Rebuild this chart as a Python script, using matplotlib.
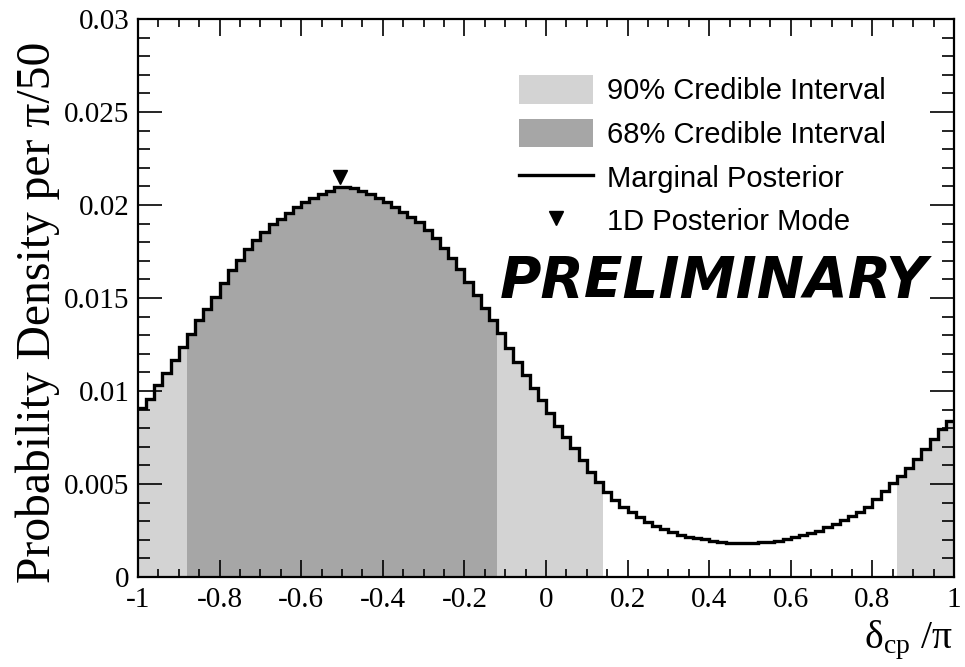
import numpy as np
import matplotlib
matplotlib.use("Agg")
import matplotlib.pyplot as plt
from matplotlib.patches import Patch
from matplotlib.lines import Line2D
from matplotlib.ticker import MultipleLocator

# ---- data ----
bin_edges = np.linspace(-1.0, 1.0, 101)
posterior = [
    0.00910, 0.00957, 0.01030, 0.01095, 0.01167, 0.01238, 0.01305, 0.01382, 0.01440, 0.01504,
    0.01579, 0.01650, 0.01704, 0.01762, 0.01812, 0.01857, 0.01900, 0.01925, 0.01959, 0.01988,
    0.02014, 0.02036, 0.02057, 0.02077, 0.02095, 0.02099, 0.02090, 0.02075, 0.02060, 0.02036,
    0.02014, 0.01991, 0.01964, 0.01937, 0.01910, 0.01866, 0.01821, 0.01767, 0.01713, 0.01654,
    0.01588, 0.01516, 0.01444, 0.01382, 0.01310, 0.01230, 0.01158, 0.01086, 0.01015, 0.00952,
    0.00880, 0.00812, 0.00754, 0.00692, 0.00629, 0.00566, 0.00512, 0.00459, 0.00414, 0.00378,
    0.00351, 0.00324, 0.00297, 0.00276, 0.00256, 0.00240, 0.00226, 0.00217, 0.00208, 0.00203,
    0.00195, 0.00188, 0.00185, 0.00181, 0.00181, 0.00183, 0.00186, 0.00190, 0.00195, 0.00204,
    0.00213, 0.00224, 0.00235, 0.00249, 0.00267, 0.00285, 0.00306, 0.00328, 0.00352, 0.00379,
    0.00417, 0.00460, 0.00503, 0.00543, 0.00586, 0.00634, 0.00688, 0.00742, 0.00796, 0.00839,
]
ci90_ranges = [(-1.0, 0.14), (0.86, 1.0)]
ci68_ranges = [(-0.88, -0.12)]
mode_x = -0.505
mode_y = 0.0215

legend_labels = ["90% Credible Interval", "68% Credible Interval",
                 "Marginal Posterior", "1D Posterior Mode"]
x_ticks = [-1, -0.8, -0.6, -0.4, -0.2, 0, 0.2, 0.4, 0.6, 0.8, 1]
x_tick_labels = ["-1", "-0.8", "-0.6", "-0.4", "-0.2", "0", "0.2", "0.4", "0.6", "0.8", "1"]
y_ticks = [0, 0.005, 0.01, 0.015, 0.02, 0.025, 0.03]
y_tick_labels = ["0", "0.005", "0.01", "0.015", "0.02", "0.025", "0.03"]

c90 = "#d3d3d3"
c68 = "#a6a6a6"

plt.rcParams["mathtext.fontset"] = "custom"
plt.rcParams["mathtext.rm"] = "Liberation Serif"
plt.rcParams["mathtext.it"] = "Liberation Serif:italic"

posterior = np.asarray(posterior)
centers = 0.5 * (bin_edges[:-1] + bin_edges[1:])

fig = plt.figure(figsize=(9.65, 6.67), dpi=100)
ax = fig.add_axes([138/965, 1-577/667, (954-138)/965, (577-19)/667])


def fill_ranges(ranges, color):
    for lo, hi in ranges:
        m = (centers > lo) & (centers < hi)
        idx = np.where(m)[0]
        ax.stairs(posterior[idx], bin_edges[idx[0]:idx[-1] + 2], fill=True,
                  color=color, linewidth=0, zorder=1)


fill_ranges(ci90_ranges, c90)
fill_ranges(ci68_ranges, c68)
ax.stairs(posterior, bin_edges, baseline=None, color="black", linewidth=2.4, zorder=3)
ax.plot([mode_x], [mode_y], marker="v", color="black", markersize=9.5,
        linestyle="none", zorder=4)

ax.set_xlim(-1, 1)
ax.set_ylim(0, 0.03)
ax.set_xticks(x_ticks)
ax.set_xticklabels(x_tick_labels)
ax.set_yticks(y_ticks)
ax.set_yticklabels(y_tick_labels)
ax.xaxis.set_minor_locator(MultipleLocator(0.05))
ax.yaxis.set_minor_locator(MultipleLocator(0.001))

for s in ax.spines.values():
    s.set_linewidth(1.6)

ax.tick_params(axis="both", which="both", direction="in", top=True, right=True,
               width=1.2, colors="black")
ax.tick_params(axis="x", which="major", length=12, pad=7)
ax.tick_params(axis="x", which="minor", length=6)
ax.tick_params(axis="y", which="major", length=17, pad=6)
ax.tick_params(axis="y", which="minor", length=8.5)
for lab in ax.get_xticklabels() + ax.get_yticklabels():
    lab.set_fontfamily("Liberation Serif")
    lab.set_fontsize(21)

ax.set_ylabel("Probability Density per π/50", fontfamily="Liberation Serif",
              fontsize=34.3, loc="bottom")
ax.yaxis.set_label_coords((60-138)/816, (577-583)/558)
fig.text(952/965, 1-648/667, r"$\mathrm{\delta_{cp}}$ /π", fontfamily="Liberation Serif",
         fontsize=28.5, ha="right", va="baseline")

handles = [
    Patch(facecolor=c90, edgecolor="none"),
    Patch(facecolor=c68, edgecolor="none"),
    Line2D([0], [0], color="black", linewidth=2.4),
    Line2D([0], [0], marker="v", color="black", markersize=9.5, linestyle="none"),
]
leg = fig.legend(handles, legend_labels, loc="upper left",
                 bbox_to_anchor=(519/965, 1-75/667), frameon=False,
                 prop={"family": "Liberation Sans", "size": 21},
                 handlelength=2.55, handleheight=1.14, handletextpad=0.48,
                 labelspacing=0.46, borderpad=0, borderaxespad=0)

fig.text(500/965, 1-298/667, "PRELIMINARY", fontfamily="DejaVu Sans",
         fontweight="bold", fontstyle="oblique", fontsize=40.7, va="baseline", ha="left")

fig.savefig("out.png", dpi=100)
